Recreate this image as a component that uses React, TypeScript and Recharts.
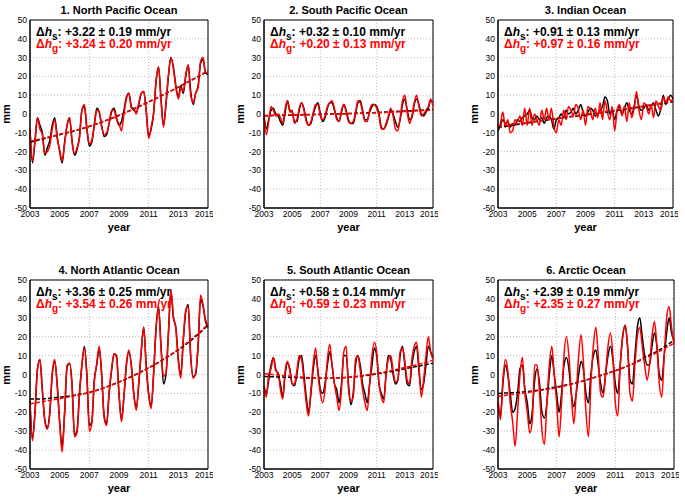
import { LineChart, Line, XAxis, YAxis, CartesianGrid, ReferenceArea } from 'recharts';

// bimonthly samples 2003.0 .. 2015.0 (73 points), trend values once a year
const X_TICKS = [2003, 2005, 2007, 2009, 2011, 2013, 2015];
const Y_TICKS = [-50, -40, -30, -20, -10, 0, 10, 20, 30, 40, 50];
const TREND_YEARS = [2003, 2004, 2005, 2006, 2007, 2008, 2009, 2010, 2011, 2012, 2013, 2014, 2015];
const TIMES = Array.from({ length: 73 }, (_, i) => 2003 + i / 6);

// 1. North Pacific
const npBlack = [
  -8, -26, -15, -2, -6, -10, -22, -18, -14, -6, -2, -12, -20, -26, -15, -6, -2, -14,
  -22, -19, -12, 2, 4, -8, -17, -15, -6, 3, 1, -6, -12, -11, -5, 1, 3, -2,
  -6, -4, 2, 9, 11, 4, 2, 1, 5, 11, 12, 2, -12, -8, 0, 17, 25, 8,
  -6, 5, 20, 30, 25, 15, 9, 15, 11, 20, 26, 12, 5, 11, 15, 27, 29, 22, 21,
];
const npRed = [
  -8, -25, -14, -2, -8, -11, -21, -20, -17, -8, -3, -13, -19, -25, -16, -6, -2, -15,
  -21, -18, -13, 2, 5, -7, -16, -14, -6, 2, 1, -7, -11, -10, -5, 2, 2, -3,
  -5, -9, 0, 8, 11, 3, 3, 0, 6, 11, 12, 1, -13, -7, 1, 18, 25, 7,
  -7, 6, 21, 30, 24, 14, 8, 14, 12, 21, 26, 10, 6, 11, 14, 28, 30, 22, 22,
];
const npTrendBlack = [-15, -13, -11, -9, -6.7, -3.8, -0.7, 2.8, 6.5, 10.3, 14.3, 18.5, 22.8];
const npTrendRed = [-14.5, -12.7, -10.8, -8.8, -6.5, -3.8, -0.8, 2.6, 6.3, 10.2, 14.3, 18.6, 23];

// 2. South Pacific
const spBlack = [
  -1, -8, -3, 2, 3, 0, -1, -4, -6, 1, 7, 2, 1, -4, -4, 2, 6, 3,
  -3, -6, -5, 0, 4, 6, 0, -4, -2, 3, 6, 6, 2, -2, -4, 1, 5, 2,
  -3, -5, -5, 0, 6, 7, 2, -3, -3, 1, 4, 5, 4, 0, -7, -8, -6, -2,
  2, 0, -4, -7, -3, 5, 8, 2, -3, -2, 5, 8, 5, 0, -1, 1, 3, 7, 6,
];
const spRed = [
  0, -11, -4, 4, 2, -1, 0, -2, -5, 3, 7, 1, 2, -5, -3, 3, 6, 2,
  -4, -6, -4, 1, 5, 5, -1, -3, -1, 4, 6, 7, 3, -3, -4, 2, 5, 1,
  -4, -5, -4, 1, 7, 6, 1, -4, -4, 2, 5, 5, 3, -1, -8, -8, -5, -1,
  3, -1, -8, -9, -2, 7, 10, 1, -5, -1, 6, 10, 4, -1, 0, 2, 4, 8, 4,
];
const spTrendBlack = [-1, -0.8, -0.6, -0.4, -0.2, 0, 0.2, 0.5, 0.8, 1.2, 1.6, 2, 2.5];
const spTrendRed = [-0.8, -0.6, -0.5, -0.3, -0.2, 0, 0.2, 0.4, 0.7, 1, 1.3, 1.7, 2];

// 3. Indian
const ioBlack = [
  -9, -6, -3, -5, -4, -7, -5, -6, -3, -4, -2, -1, 0, 2, -2, -3, -1, -3,
  -2, -5, -2, -1, -3, -8, -3, -2, 0, -2, 2, 0, 1, 3, 0, 2, 5, 1,
  -1, 1, 3, 2, -1, 0, 2, 4, 9, 7, 0, 2, -3, 2, 4, 0, 3, 6,
  2, 0, 4, 10, 4, 2, 3, 5, 2, 4, 6, 2, -1, 3, 10, 5, 8, 10, 8,
];
const ioRed = [
  -8, -5, 1, -7, -3, -10, -9, -3, -4, -1, -6, 3, -6, 3, -6, 0, -3, -6,
  2, -3, 3, -3, 3, -7, -10, -3, -6, 2, -3, 4, 2, -1, 5, 3, -3, 2,
  -6, 4, 2, -3, 3, -2, 6, -3, 7, 1, -3, 4, -9, 2, 5, -1, 4, -4,
  6, -2, 3, 12, 2, -3, 6, 4, 0, 5, -2, 7, 4, 2, 9, 6, 9, 7, 8,
];
const ioTrendBlack = [-7, -6, -4.8, -3.6, -2.5, -1.5, -0.5, 0.6, 1.7, 2.8, 4, 5.3, 6.5];
const ioTrendRed = [-6.5, -5.5, -4.5, -3.4, -2.3, -1.2, -0.2, 0.9, 2, 3.1, 4.3, 5.6, 7];

// 4. North Atlantic
const naBlack = [
  -14, -34, -20, 3, 8, -8, -24, -28, -20, 0, 7, -5, -25, -38, -20, 4, 6, -5,
  -32, -30, -10, 5, 15, 0, -27, -25, -3, 5, 14, 0, -22, -26, -10, 2, 11, 10,
  -10, -24, -12, 5, 12, 5, -10, -18, -5, 12, 25, 5, -10, -17, 0, 25, 36, 15,
  -5, 0, 22, 44, 30, 25, 8, 0, 18, 33, 37, 10, -1, 0, 15, 40, 36, 28, 25,
];
const naRed = [
  -15, -35, -21, 2, 8, -9, -25, -29, -21, 1, 8, -6, -26, -41, -21, 5, 6, -6,
  -33, -31, -11, 5, 14, -1, -30, -26, -4, 6, 15, -1, -23, -27, -9, 3, 11, 9,
  -11, -25, -11, 6, 13, 4, -11, -19, -4, 13, 25, 4, -11, -18, 1, 24, 35, 14,
  -1, 1, 22, 45, 31, 24, 7, -2, 19, 34, 36, 9, -2, 1, 16, 42, 37, 29, 26,
];
const naTrendBlack = [-13, -12.8, -12, -11, -9.5, -7, -4, -0.5, 3.5, 8, 13, 19, 26];
const naTrendRed = [-15.5, -14.2, -12.8, -11.3, -9.5, -7, -4, -0.5, 3.5, 8, 13.2, 19.5, 26.5];

// 5. South Atlantic
const saBlack = [
  -6, -10, -3, 5, 9, 3, 0, -5, -12, 0, 6, 3, -5, -6, 0, 8, 10, 0,
  -12, -20, -10, 3, 10, 2, -8, -10, -5, 5, 12, 5, -5, -8, -15, -5, 10, 10,
  -5, -16, -10, 5, 10, 5, -5, -10, -15, -5, 5, 14, 10, -5, -10, -13, 0, 10,
  8, 0, -5, -3, 10, 15, 5, -5, -6, 5, 12, 15, 2, -8, -5, 5, 15, 12, 9,
];
const saRed = [
  -6, -12, 0, 3, 9, 2, 1, -8, -13, 2, 7, 2, -5, -5, 2, 10, 8, -3,
  -15, -22, -8, 6, 14, 0, -10, -15, -8, 8, 16, 5, -5, -12, -19, -8, 12, 15,
  -8, -14, -12, 8, 10, 2, -8, -15, -19, -5, 10, 17, 12, -5, -12, -15, 0, 8,
  10, 2, -4, -3, 12, 14, 7, -3, -5, 8, 15, 17, 5, -12, -3, 10, 20, 12, 8,
];
const saTrendBlack = [-1, -1.3, -1.5, -1.8, -2, -1.9, -1.5, -0.8, 0.3, 1.5, 3, 4.5, 6];
const saTrendRed = [0.5, -0.3, -1, -1.6, -2, -2, -1.5, -0.6, 0.6, 2, 3.7, 5.5, 7.5];

// 6. Arctic
const arBlack = [
  -15, -22, -5, 5, 0, -10, -20, -18, -10, 3, 5, -8, -15, -26, -20, -3, 3, -5,
  -20, -23, -15, 0, 10, 0, -10, -20, -10, 5, 9, 3, -10, -17, -10, 0, 7, 2,
  -10, -15, 0, 10, 13, 5, -5, -10, 0, 10, 15, 8, -5, -10, 5, 20, 26, 15,
  -3, -5, 10, 25, 30, 20, 10, 5, 5, 15, 22, 15, 0, -3, 10, 22, 30, 22, 18,
];
const arRed = [
  -12, -24, -3, 8, 2, -15, -25, -38, -20, 0, 9, -10, -20, -31, -25, 5, 5, -10,
  -30, -37, -15, 5, 15, 0, -15, -33, -15, 10, 20, 10, -10, -26, -10, 10, 21, 5,
  -20, -33, -5, 15, 25, 10, -10, -12, 0, 15, 22, 10, -15, -22, 5, 20, 26, 15,
  -10, -14, 5, 20, 25, 15, 5, -3, 5, 20, 28, 15, -5, -12, 10, 30, 36, 25, 16,
];
const arTrendBlack = [-10, -9.6, -9, -8, -6.5, -5, -3, -0.5, 2, 5, 9, 13, 18];
const arTrendRed = [-11.5, -10.6, -9.5, -8.3, -7, -5.2, -3, -0.6, 2, 5, 8.5, 12.3, 16.5];

const RED = '#ff0000';

function buildRows(black: number[], red: number[], tb: number[], tr: number[]) {
  return TIMES.map((t, i) => {
    const yi = i % 6 === 0 ? i / 6 : -1;
    return {
      t,
      b: black[i],
      r: red[i],
      tb: yi >= 0 ? tb[yi] : null,
      tr: yi >= 0 ? tr[yi] : null,
      year: yi >= 0 ? TREND_YEARS[yi] : null,
    };
  });
}

const panels = [
  { title: '1. North Pacific Ocean', L: 30, R: 208, T: 20, B: 208, s: '+3.22 ± 0.19', g: '+3.24 ± 0.20', rows: buildRows(npBlack, npRed, npTrendBlack, npTrendRed) },
  { title: '2. South Pacific Ocean', L: 264, R: 433, T: 20, B: 208, s: '+0.32 ± 0.10', g: '+0.20 ± 0.13', rows: buildRows(spBlack, spRed, spTrendBlack, spTrendRed) },
  { title: '3. Indian Ocean', L: 498, R: 673, T: 20, B: 208, s: '+0.91 ± 0.13', g: '+0.97 ± 0.16', rows: buildRows(ioBlack, ioRed, ioTrendBlack, ioTrendRed) },
  { title: '4. North Atlantic Ocean', L: 30, R: 208, T: 280, B: 469, s: '+3.36 ± 0.25', g: '+3.54 ± 0.26', rows: buildRows(naBlack, naRed, naTrendBlack, naTrendRed) },
  { title: '5. South Atlantic Ocean', L: 264, R: 433, T: 280, B: 469, s: '+0.58 ± 0.14', g: '+0.59 ± 0.23', rows: buildRows(saBlack, saRed, saTrendBlack, saTrendRed) },
  { title: '6. Arctic Ocean', L: 498, R: 674, T: 280, B: 469, s: '+2.39 ± 0.19', g: '+2.35 ± 0.27', rows: buildRows(arBlack, arRed, arTrendBlack, arTrendRed) },
];

const tickStyle = { fontSize: 8.5, fill: '#000' };
const subStyle = { fontSize: 10, verticalAlign: '-4px', lineHeight: 0 };

function Panel({ p }: { p: (typeof panels)[number] }) {
  const w = p.R - p.L;
  const h = p.B - p.T;
  const cx = (p.L + p.R) / 2;
  const cy = (p.T + p.B) / 2;
  return (
    <>
      <div style={{ position: 'absolute', left: p.L - 30, top: p.T - 5 }}>
        <LineChart width={w + 35} height={h + 25} data={p.rows} margin={{ top: 5, right: 5, left: 0, bottom: 0 }}>
          <CartesianGrid stroke="#bdbdbd" strokeDasharray="1 2" />
          <XAxis dataKey="t" type="number" domain={[2003, 2015]} ticks={X_TICKS} height={20}
            tickLine={false} tickSize={0} tickMargin={3} axisLine={{ stroke: '#000' }} tick={tickStyle} />
          <YAxis domain={[-50, 50]} ticks={Y_TICKS} width={30} tickLine={false} tickSize={0} tickMargin={3}
            axisLine={{ stroke: '#000' }} tick={tickStyle} interval={0} />
          <ReferenceArea x1={2003} x2={2015} y1={-50} y2={50} fill="none" stroke="#000" strokeWidth={1} />
          <Line dataKey="b" stroke="#000" strokeWidth={1.5} dot={false} type="monotone" isAnimationActive={false} />
          <Line dataKey="r" stroke={RED} strokeWidth={1.5} dot={false} type="monotone" isAnimationActive={false} />
          <Line dataKey="tb" stroke="#000" strokeWidth={1.5} strokeDasharray="4 2" dot={false} type="monotone" connectNulls isAnimationActive={false} />
          <Line dataKey="tr" stroke={RED} strokeWidth={1.5} strokeDasharray="4 2" dot={false} type="monotone" connectNulls isAnimationActive={false} />
        </LineChart>
      </div>
      <div style={{ position: 'absolute', left: cx - 100, width: 200, top: p.T - 17, textAlign: 'center', fontSize: 11, fontWeight: 'bold', lineHeight: '14px' }}>
        {p.title}
      </div>
      <div style={{ position: 'absolute', left: p.L + 6, top: p.T + 6, fontSize: 12, fontWeight: 'bold', lineHeight: '12px', whiteSpace: 'nowrap' }}>
        <div>Δ<i>h</i><sub style={subStyle}>s</sub>: {p.s} mm/yr</div>
        <div style={{ color: RED }}>Δ<i>h</i><sub style={subStyle}>g</sub>: {p.g} mm/yr</div>
      </div>
      <div style={{ position: 'absolute', left: cx - 30, width: 60, top: p.B + 12, textAlign: 'center', fontSize: 11, fontWeight: 'bold', lineHeight: '14px' }}>
        year
      </div>
      <div style={{ position: 'absolute', left: p.L - 24 - 20, top: cy - 7, width: 40, textAlign: 'center', fontSize: 11, fontWeight: 'bold', lineHeight: '14px', transform: 'rotate(-90deg)' }}>
        mm
      </div>
    </>
  );
}

export default function App() {
  return (
    <div style={{ position: 'absolute', left: 0, top: 0, width: 685, height: 497, background: '#fff', fontFamily: '"Liberation Sans", Arial, sans-serif', color: '#000' }}>
      {panels.map((p) => (
        <Panel key={p.title} p={p} />
      ))}
    </div>
  );
}
